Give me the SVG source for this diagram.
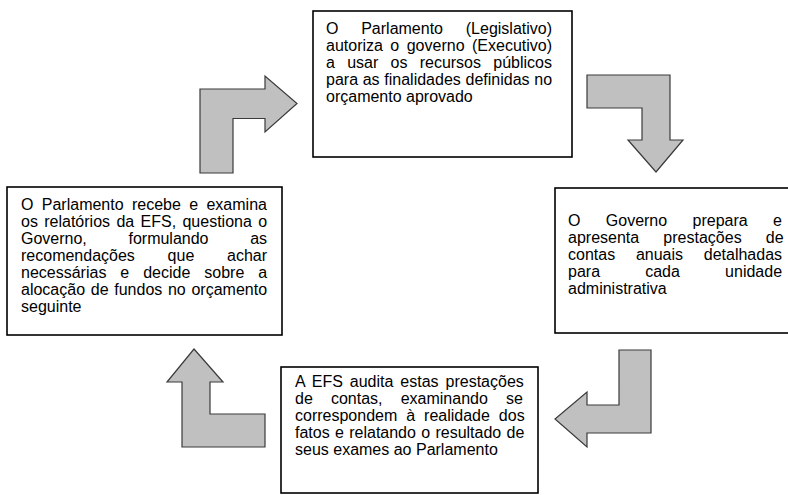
<svg xmlns="http://www.w3.org/2000/svg" width="788" height="495" viewBox="0 0 788 495">
<style>
.box{fill:#fff;stroke:#000;stroke-width:1.6}
.arr{fill:#c0c0c0;stroke:#3a3a3a;stroke-width:1.2;stroke-linejoin:miter}
text{font-family:"Liberation Sans",Arial,sans-serif;font-size:16px;fill:#000}
</style>
<rect width="788" height="495" fill="#fff"/>
<g id="connectors">
<polygon class="arr" points="200,173 200,89 265,89 265,76 297,103.5 265,132 265,118.5 233,118.5 233,173"/>
<polygon class="arr" points="587,75 670,75 670,140 683,140 656,172 628,140 642,140 642,108 587,108"/>
<polygon class="arr" points="619,350 651,350 651,433 587,433 587,447 555,419 587,392 587,405 619,405"/>
<polygon class="arr" points="194,349 223,382 210,382 210,414 265,414 265,447 182,447 182,382 167,382"/>
</g>
<g id="node-legislativo">
<rect class="box" x="313" y="11" width="259" height="146"/>
<text x="326" y="34" style="word-spacing:18.3px">O Parlamento (Legislativo)</text>
<text x="326" y="51" style="word-spacing:3px">autoriza o governo (Executivo)</text>
<text x="326" y="68" style="word-spacing:7.8px">a usar os recursos públicos</text>
<text x="326" y="85" style="word-spacing:0.25px">para as finalidades definidas no</text>
<text x="326" y="102">orçamento aprovado</text>
</g>
<g id="node-governo">
<rect class="box" x="555" y="188" width="240" height="145"/>
<text x="568" y="226" style="word-spacing:20.9px">O Governo prepara e</text>
<text x="568" y="243" style="word-spacing:19.75px">apresenta prestações de</text>
<text x="568" y="260" style="word-spacing:16.3px">contas anuais detalhadas</text>
<text x="568" y="277" style="word-spacing:40.75px">para cada unidade</text>
<text x="568" y="294">administrativa</text>
</g>
<g id="node-efs">
<rect class="box" x="281" y="367" width="257" height="126"/>
<text x="295" y="387" style="word-spacing:2.5px">A EFS audita estas prestações</text>
<text x="295" y="404" style="word-spacing:13.7px">de contas, examinando se</text>
<text x="295" y="421" style="word-spacing:4.5px">correspondem à realidade dos</text>
<text x="295" y="438" style="word-spacing:0.86px">fatos e relatando o resultado de</text>
<text x="295" y="455">seus exames ao Parlamento</text>
</g>
<g id="node-parlamento">
<rect class="box" x="7" y="187" width="275" height="148"/>
<text x="21" y="210" style="word-spacing:3.9px">O Parlamento recebe e examina</text>
<text x="21" y="227" style="word-spacing:1.9px">os relatórios da EFS, questiona o</text>
<text x="21" y="244" style="word-spacing:37.2px">Governo, formulando as</text>
<text x="21" y="261" style="word-spacing:28.3px">recomendações que achar</text>
<text x="21" y="278" style="word-spacing:9.5px">necessárias e decide sobre a</text>
<text x="21" y="295" style="word-spacing:1.25px">alocação de fundos no orçamento</text>
<text x="21" y="312">seguinte</text>
</g>
</svg>
